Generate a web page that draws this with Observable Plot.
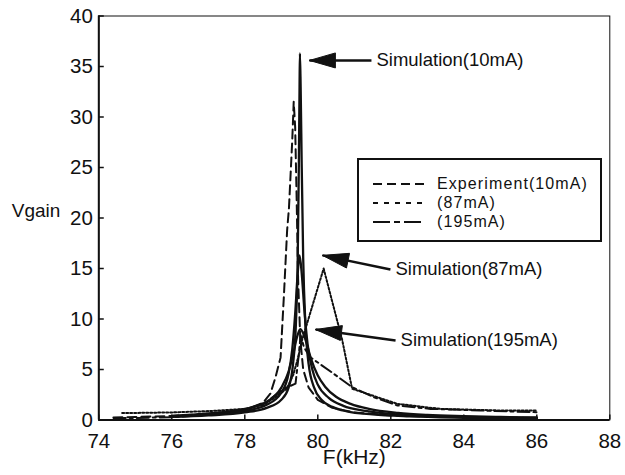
<!DOCTYPE html>
<html><head><meta charset="utf-8">
<script src="https://cdn.jsdelivr.net/npm/d3@7"></script>
<script src="https://cdn.jsdelivr.net/npm/@observablehq/plot@0.6"></script>
<style>
html,body{margin:0;padding:0;background:#fff;}
#wrap{position:relative;width:625px;height:475px;font-family:"Liberation Sans",Arial,Helvetica,sans-serif;color:#111;}
#legend{position:absolute;left:357px;top:158px;width:241px;height:80px;border:2px solid #111;background:#fff;}
#legend .row{position:absolute;left:14px;height:18px;line-height:18px;display:flex;align-items:center;font-size:16px;letter-spacing:1.1px;white-space:nowrap;}
#legend .row svg{margin-right:12px;}
</style></head><body><div id="wrap"></div>
<script>
// ---- data ----
const xTicks = [74, 76, 78, 80, 82, 84, 86, 88];
const yTicks = [0, 5, 10, 15, 20, 25, 30, 35, 40];

const sim10mA = [[76,0.3],[77,0.45],[78,0.75],[78.6,1.2],[79.0,2.0],[79.2,3.2],[79.32,5.5],[79.4,9.5],[79.45,16],[79.48,25],[79.5,33],[79.51,36.3],[79.53,33],[79.56,25],[79.6,16],[79.66,9.5],[79.75,5.5],[79.9,3.2],[80.1,2.0],[80.4,1.3],[80.8,0.85],[81.5,0.55],[82.5,0.35],[84,0.22],[86,0.15]];
const sim87mA = [[76,0.35],[77,0.55],[78,0.9],[78.6,1.5],[79.0,2.7],[79.2,4.6],[79.3,7],[79.38,10.5],[79.44,14],[79.5,16.3],[79.56,14.5],[79.63,11],[79.72,7.5],[79.85,5],[80.0,3.5],[80.3,2.2],[80.7,1.4],[81.3,0.9],[82.2,0.55],[83,0.4],[84,0.3],[86,0.2]];
const sim195mA = [[76,0.4],[77,0.65],[78,1.1],[78.6,1.8],[79.0,3.2],[79.2,4.8],[79.33,6.6],[79.43,8.2],[79.52,9.0],[79.6,8.6],[79.7,7.5],[79.82,6.0],[80.0,4.4],[80.2,3.3],[80.5,2.3],[80.9,1.6],[81.4,1.1],[82.2,0.7],[83,0.5],[84,0.38],[85,0.3],[86,0.25]];
const exp10mA = [[74.4,0.25],[75,0.3],[76,0.4],[77,0.6],[78,1.0],[78.5,1.7],[78.7,2.6],[78.84,4.2],[78.98,6.2],[79.07,12.2],[79.16,18.8],[79.21,21],[79.3,27.7],[79.34,31.5],[79.38,29],[79.42,22],[79.46,14],[79.52,8],[79.6,5],[79.75,3.2],[80.0,2.0],[80.4,1.2],[81,0.75],[82,0.45],[84,0.28],[86,0.2]];
const exp87mA = [[74.64,0.7],[75,0.7],[76,0.75],[77,0.88],[78,1.1],[78.5,1.5],[78.78,2.1],[79.15,3.1],[79.33,4.5],[79.47,6.3],[79.56,7.8],[80.16,15.0],[80.67,7.9],[80.94,3.1],[81.35,2.6],[82.18,1.6],[83.36,1.1],[84.92,0.95],[86.0,0.95]];
const exp195mA = [[74.41,0.18],[75,0.2],[76,0.28],[77,0.5],[78,0.95],[78.6,1.8],[79.07,3.1],[79.39,3.6],[79.48,6.5],[79.53,8.4],[79.62,7.2],[79.8,6.2],[80.44,4.57],[80.94,3.25],[81.53,2.26],[82.18,1.44],[83.09,1.1],[84.46,0.94],[86.0,0.77]];

const annotLabels = ["Simulation(10mA)", "Simulation(87mA)", "Simulation(195mA)"];
const annotTip = [[79.77,35.6],[80.13,16.3],[79.94,8.96]];
const annotTail = [[81.47,35.6],[81.99,14.9],[82.13,7.87]];

const legendLabels = ["Experiment(10mA)", "(87mA)", "(195mA)"];

// ---- chart ----
const W = 625, H = 475;
const mL = 98.3, mR = 15.7, mT = 15.5, mB = 55.5;
const ink = "#111";
const px = d => d[0], py = d => d[1];

const annots = annotLabels.map((label, i) => ({label, tipF: annotTip[i][0], tipV: annotTip[i][1], tailF: annotTail[i][0], tailV: annotTail[i][1]}));

function baseMarks() {
  return [
    Plot.frame({stroke: ink, strokeWidth: 1}),
    Plot.ruleX(xTicks, {x: d => d, y1: 0, y2: 0.5, stroke: ink, strokeWidth: 1.5}),
    Plot.ruleY(yTicks, {y: d => d, x1: 74, x2: 74.15, stroke: ink, strokeWidth: 1.5}),
    Plot.ruleX([74], {stroke: ink, strokeWidth: 2}),
    Plot.ruleY([0], {stroke: ink, strokeWidth: 2}),
    Plot.axisX(xTicks, {tickSize: 0, tickPadding: 13, fontSize: 20.5, label: null}),
    Plot.axisY(yTicks, {tickSize: 0, tickPadding: 6, fontSize: 20.5, label: null}),
    Plot.line(exp10mA, {x: px, y: py, stroke: ink, strokeWidth: 2, strokeDasharray: "9,5"}),
    Plot.line(exp87mA, {x: px, y: py, stroke: ink, strokeWidth: 2, strokeDasharray: "2,2"}),
    Plot.line(exp195mA, {x: px, y: py, stroke: ink, strokeWidth: 2, strokeDasharray: "12,4,3,4"}),
    Plot.line(sim195mA, {x: px, y: py, stroke: ink, strokeWidth: 2.3, curve: "monotone-x"}),
    Plot.line(sim87mA, {x: px, y: py, stroke: ink, strokeWidth: 2.3, curve: "monotone-x"}),
    Plot.line(sim10mA, {x: px, y: py, stroke: ink, strokeWidth: 2.3, curve: "monotone-x"}),
    Plot.link(annots, {x1: "tailF", y1: "tailV", x2: "tipF", y2: "tipV", stroke: ink, strokeWidth: 2.5}),
    Plot.text(annots, {x: "tailF", y: "tailV", text: "label", textAnchor: "start", dx: 5, fontSize: 18.5, fill: ink}),
    Plot.text(["Vgain"], {frameAnchor: "left", dx: -87, dy: -7, textAnchor: "start", fontSize: 19, fill: ink}),
    Plot.text(["F(kHz)"], {frameAnchor: "bottom", dy: 44, fontSize: 21, fill: ink})
  ];
}

const opts = {
  width: W, height: H,
  marginLeft: mL, marginRight: mR, marginTop: mT, marginBottom: mB,
  x: {domain: [74, 88]},
  y: {domain: [0, 40]},
  style: {fontFamily: "'Liberation Sans', Arial, Helvetica, sans-serif", color: ink, background: "#fff", overflow: "visible"}
};

// first pass to get scales for arrowheads
const probe = Plot.plot({...opts, marks: baseMarks()});
const sx = probe.scale("x"), sy = probe.scale("y");
const heads = [];
annots.forEach((a, i) => {
  const tx = sx.apply(a.tipF), ty = sy.apply(a.tipV);
  const ax = sx.apply(a.tailF), ay = sy.apply(a.tailV);
  const d = Math.hypot(ax - tx, ay - ty);
  const ux = (ax - tx) / d, uy = (ay - ty) / d;
  const L = 26, Wd = 7.5;
  const bx = tx + ux * L, by = ty + uy * L;
  const pts = [[tx, ty], [bx - uy * Wd, by + ux * Wd], [bx + uy * Wd, by - ux * Wd], [tx, ty]];
  pts.forEach(p => heads.push({id: i, F: sx.invert(p[0]), V: sy.invert(p[1])}));
});

const chart = Plot.plot({...opts, marks: [
  ...baseMarks(),
  Plot.line(heads, {x: "F", y: "V", z: "id", fill: ink, stroke: ink, strokeWidth: 1})
]});
const wrap = document.getElementById("wrap");
wrap.appendChild(chart);

// legend
const legend = document.createElement("div");
legend.id = "legend";
const dashes = ["9,5", "5,6", "17,4,6,4"];
const rowTops = [15, 34, 53];
legendLabels.forEach((lab, i) => {
  const row = document.createElement("div");
  row.className = "row";
  row.style.top = rowTops[i] + "px";
  row.innerHTML = `<svg width="52" height="18"><line x1="0" x2="52" y1="9" y2="9" stroke="${ink}" stroke-width="2" stroke-dasharray="${dashes[i]}"/></svg><span>${lab}</span>`;
  legend.appendChild(row);
});
wrap.appendChild(legend);
</script>
</body></html>
